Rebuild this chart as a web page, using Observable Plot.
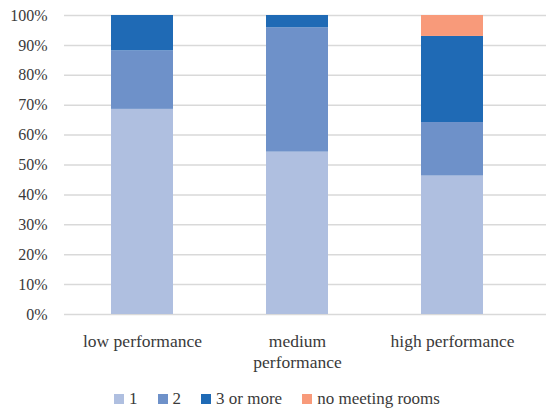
<!DOCTYPE html>
<html>
<head>
<meta charset="utf-8">
<script src="https://cdn.jsdelivr.net/npm/d3@7"></script>
<script src="https://cdn.jsdelivr.net/npm/@observablehq/plot@0.6"></script>
<style>
  html, body { margin: 0; padding: 0; background: #fff; }
  #chart { width: 546px; }
  #chart svg { display: block; }
  #chart svg text { font-family: "Liberation Serif", "DejaVu Serif", serif !important; }
  #legend { display: flex; justify-content: center; padding-left: 8px; }
  #legend div, #legend span { font-family: "Liberation Serif", "DejaVu Serif", serif !important; font-size: 17px !important; color: #3a3a3a !important; }
  #legend > div { justify-content: center; min-height: 30px !important; }
  #legend svg { margin-right: 5px !important; }
  #legend span { margin-right: 20px !important; }
  #legend span:last-child { margin-right: 0 !important; }
</style>
</head>
<body>
<div id="chart"></div>
<div id="legend"></div>
<script>
// Performance classes along the x axis, and how their labels wrap
const categories = ["low performance", "medium performance", "high performance"];
const categoryLabels = ["low performance", "medium\nperformance", "high performance"];

// Number of meeting rooms (stack order, bottom to top)
const groups = ["1", "2", "3 or more", "no meeting rooms"];
const groupColors = ["#afbfe0", "#6e91c9", "#1f6ab5", "#f89a7a"];

// Share of each group per performance class, in percent
const shareOne = [68.6, 54.3, 46.3];
const shareTwo = [19.6, 41.6, 17.9];
const shareThreePlus = [11.8, 4.1, 28.8];
const shareNone = [0, 0, 7.0];

// Y axis ticks, in percent
const yTicks = [0, 10, 20, 30, 40, 50, 60, 70, 80, 90, 100];

const series = [shareOne, shareTwo, shareThreePlus, shareNone];
const rows = [];
groups.forEach((g, gi) => {
  categories.forEach((c, ci) => {
    rows.push({category: c, group: g, value: series[gi][ci]});
  });
});

const labelOf = new Map(categories.map((c, i) => [c, categoryLabels[i]]));

const textColor = "#3a3a3a";

const chart = Plot.plot({
  width: 546,
  height: 380,
  marginLeft: 64,
  marginRight: 0,
  marginTop: 15,
  marginBottom: 66,
  style: {fontSize: "16px", color: textColor, background: "#fff"},
  x: {domain: categories, range: [64, 530.5], paddingInner: 0.6, paddingOuter: 0.3, label: null},
  y: {domain: [0, 100], label: null},
  color: {domain: groups, range: groupColors},
  marks: [
    Plot.ruleY(yTicks, {stroke: "#d9d9d9", strokeWidth: 1.5}),
    Plot.barY(rows, {x: "category", y: "value", fill: "group", order: groups}),
    Plot.axisY({
      ticks: yTicks,
      tickFormat: d => d + "%",
      tickSize: 0,
      tickPadding: 17,
      fontSize: 16,
      fill: textColor
    }),
    Plot.axisX({
      tickSize: 0,
      tickPadding: 18,
      tickFormat: d => labelOf.get(d),
      fontSize: 17.5,
      lineHeight: 1.18,
      fill: textColor
    })
  ]
});
document.getElementById("chart").appendChild(chart);

const legend = Plot.legend({
  color: {domain: groups, range: groupColors},
  legend: "swatches",
  swatchSize: 10
});
legend.style.marginTop = "4px";
document.getElementById("legend").appendChild(legend);
</script>
</body>
</html>
